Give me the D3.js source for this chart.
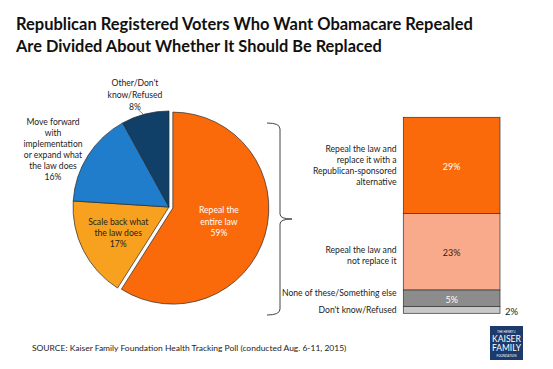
<!DOCTYPE html>
<html><head><meta charset="utf-8">
<script src="https://cdn.jsdelivr.net/npm/d3@7"></script>
<style>body{margin:0;background:#fff}svg{display:block}text{font-family:Lato,"Open Sans",sans-serif}</style>
</head><body>
<script>
// ---- data ----
const pieCategories = ["Repeal the entire law", "Scale back what the law does", "Move forward with implementation or expand what the law does", "Other/Don't know/Refused"];
const pieValues = [59, 17, 16, 8];
const barCategories = ["Repeal the law and replace it with a Republican-sponsored alternative", "Repeal the law and not replace it", "None of these/Something else", "Don't know/Refused"];
const barValues = [29, 23, 5, 2];
const titleLines = ["Republican Registered Voters Who Want Obamacare Repealed", "Are Divided About Whether It Should Be Replaced"];
const sourceText = "SOURCE: Kaiser Family Foundation Health Tracking Poll (conducted Aug. 6-11, 2015)";

const W = 553, H = 369;
const svg = d3.select("body").append("svg").attr("width", W).attr("height", H);

function fitWidth(t, target) {
  const w = t.node().getComputedTextLength();
  const fs = parseFloat(t.attr("font-size"));
  t.attr("font-size", fs * target / w);
}

// title
titleLines.forEach((l, i) => {
  const t = svg.append("text").attr("x", 16).attr("y", 30 + i * 21.5)
    .attr("font-size", 15).attr("font-weight", "bold").attr("fill", "#111").text(l);
  fitWidth(t, i === 0 ? 457 : 366);
});

// ---- pie ----
const cx = 169, cy = 207, R = 96;
const pieColors = ["#FA6A0A", "#F8A11E", "#1F7DCB", "#103F68"];
const pie = d3.pie().sort(null).value(d => d)(pieValues);
const arc = d3.arc().innerRadius(0).outerRadius(R);
const g = svg.append("g").attr("transform", `translate(${cx},${cy})`);
const explode = 4;
g.selectAll("path").data(pie).join("path")
  .attr("d", arc)
  .attr("fill", (d, i) => pieColors[i])
  .attr("stroke", "#2a2a2a").attr("stroke-width", 0.7)
  .attr("transform", (d, i) => {
    if (i !== 0) return null;
    const a = (d.startAngle + d.endAngle) / 2;
    return `translate(${Math.sin(a) * explode},${-Math.cos(a) * explode})`;
  });
// white gap edges of exploded slice
const fs = 8.6;
function multiline(parent, lines, x, yCenter, opts) {
  const lh = opts.lh || 11.5;
  const t = parent.append("text").attr("text-anchor", opts.anchor || "middle")
    .attr("font-size", opts.size || fs).attr("fill", opts.fill || "#222");
  const y0 = yCenter - (lines.length - 1) * lh / 2 + 3;
  lines.forEach((l, i) => t.append("tspan").attr("x", x).attr("y", y0 + i * lh).text(l));
  return t;
}
// inside labels
const labelArc = (r) => d3.arc().innerRadius(r).outerRadius(r);
{
  const c0 = labelArc(48 + explode).centroid(pie[0]);
  multiline(g, ["Repeal the", "entire law", pie[0].value + "%"], c0[0], c0[1], {fill: "#fff", lh: 11.7});
  const c1 = labelArc(57).centroid(pie[1]);
  multiline(g, ["Scale back what", "the law does", pie[1].value + "%"], c1[0], c1[1], {fill: "#222", lh: 11.3});
  multiline(g, ["Move forward", "with", "implementation", "or expand what", "the law does", pie[2].value + "%"], 53 - cx, 149.5 - cy, {lh: 11});
  multiline(g, ["Other/Don't", "know/Refused", pie[3].value + "%"], 135 - cx, 95 - cy, {lh: 11.8});
  g.append("line").attr("x1", 137.5 - cx).attr("y1", 109 - cy).attr("x2", 143 - cx).attr("y2", 114 - cy)
    .attr("stroke", "#555").attr("stroke-width", 0.7);
}

// ---- brace ----
{
  const bx = 280, top = 123, bot = 315, mid = 219;
  const p = d3.path();
  p.moveTo(bx - 13, top);
  p.quadraticCurveTo(bx, top, bx, top + 6);
  p.lineTo(bx, mid - 5);
  p.quadraticCurveTo(bx, mid, bx + 12, mid);
  p.quadraticCurveTo(bx, mid, bx, mid + 5);
  p.lineTo(bx, bot - 6);
  p.quadraticCurveTo(bx, bot, bx - 13, bot);
  svg.append("path").attr("d", p.toString()).attr("fill", "none").attr("stroke", "#444").attr("stroke-width", 1);
}

// ---- stacked bar ----
const barTotal = d3.sum(barValues);
const y = d3.scaleLinear().domain([0, barTotal]).range([313.3, 117.3]);
const x0 = 403.3, x1 = 500;
const barColors = ["#FA6A0A", "#F9AA8B", "#8C8C8C", "#C8C8C8"];
const valColors = ["#fff", "#3a1a0a", "#fff", "#222"];
let acc = barTotal;
const segs = barValues.map((v, i) => { const s = {v, i, top: acc, bot: acc - v}; acc -= v; return s; });
svg.selectAll("rect.seg").data(segs).join("rect").attr("class", "seg")
  .attr("x", x0).attr("width", x1 - x0)
  .attr("y", d => y(d.top)).attr("height", d => y(d.bot) - y(d.top))
  .attr("fill", d => barColors[d.i]).attr("stroke", "#333").attr("stroke-width", 0.7);
// value labels
segs.forEach(s => {
  const m = (y(s.top) + y(s.bot)) / 2 + 1.5;
  if (s.i < 3) multiline(svg, [s.v + "%"], (x0 + x1) / 2, m, {fill: valColors[s.i], size: 9});
  else multiline(svg, [s.v + "%"], 505, m + 0.5, {anchor: "start", size: 9.5, fill: "#222"});
});
// category labels
const barLabelLines = [["Repeal the law and", "replace it with a", "Republican-sponsored", "alternative"], ["Repeal the law and", "not replace it"], ["None of these/Something else"], ["Don't know/Refused"]];
const barLabelShift = [0, 4, -5, 0.5];
segs.forEach(s => {
  const m = (y(s.top) + y(s.bot)) / 2 + barLabelShift[s.i];
  multiline(svg, barLabelLines[s.i], 396.5, m, {anchor: "end", lh: 11});
});

// ---- source ----
{
  const t = svg.append("text").attr("x", 32).attr("y", 351).attr("font-size", 8).attr("fill", "#222").text(sourceText);
  fitWidth(t, 315);
}
// ---- logo ----
{
  const lg = svg.append("g").attr("transform", "translate(490,326)");
  lg.append("rect").attr("width", 33).attr("height", 34).attr("fill", "#1C3A6B");
  lg.append("text").attr("x", 16.5).attr("y", 6.5).attr("text-anchor", "middle").attr("font-size", 3).attr("fill", "#fff").attr("font-family", "Liberation Serif").text("THE HENRY J.");
  lg.append("text").attr("x", 16.5).attr("y", 15.5).attr("text-anchor", "middle").attr("font-size", 8.5).attr("fill", "#fff").attr("font-family", "Liberation Serif").attr("textLength", 29).attr("lengthAdjust", "spacingAndGlyphs").text("KAISER");
  lg.append("text").attr("x", 16.5).attr("y", 24.5).attr("text-anchor", "middle").attr("font-size", 8.5).attr("fill", "#fff").attr("font-family", "Liberation Serif").attr("textLength", 29).attr("lengthAdjust", "spacingAndGlyphs").text("FAMILY");
  lg.append("text").attr("x", 16.5).attr("y", 30.5).attr("text-anchor", "middle").attr("font-size", 3).attr("fill", "#fff").attr("font-family", "Liberation Serif").text("FOUNDATION");
}
</script>
</body></html>
